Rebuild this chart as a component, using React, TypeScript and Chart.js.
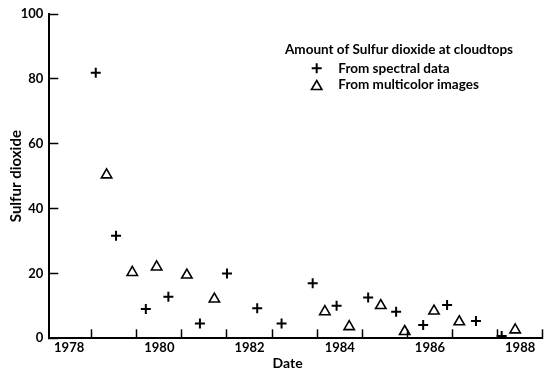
import React, { useEffect, useRef } from 'react';
import { Chart, registerables } from 'chart.js';

Chart.register(...registerables);

// Spectral data (+)
const spectralYears = [1978.59, 1979.04, 1979.70, 1980.20, 1980.90, 1981.50, 1982.17, 1982.71, 1983.40, 1983.93, 1984.63, 1985.25, 1985.85, 1986.38, 1987.02, 1987.59];
const spectralSO2 = [81.9, 31.6, 9.0, 12.8, 4.6, 20.0, 9.3, 4.6, 17.0, 10.0, 12.6, 8.2, 4.1, 10.3, 5.3, 0.7];

// Multicolor images (triangles)
const imageYears = [1978.83, 1979.40, 1979.94, 1980.61, 1981.22, 1983.67, 1984.21, 1984.91, 1985.44, 1986.09, 1986.65, 1987.89];
const imageSO2 = [50.4, 20.3, 22.0, 19.5, 12.1, 8.2, 3.6, 10.1, 2.1, 8.4, 5.1, 2.6];

const yearLabels = [1978, 1980, 1982, 1984, 1986, 1988];
const yearBoundaries = [1978.5, 1979.5, 1980.5, 1981.5, 1982.5, 1983.5, 1984.5, 1985.5, 1986.5, 1987.5, 1988.5];
const yTickValues = [0, 20, 40, 60, 80, 100];

const legendTitle = 'Amount of Sulfur dioxide at cloudtops';
const seriesLabels = ['From spectral data', 'From multicolor images'];
const xTitle = 'Date';
const yTitle = 'Sulfur dioxide';

const FONT = 'Lato';

const legendPlugin = {
  id: 'customLegend',
  afterDraw(chart: any) {
    const ctx = chart.ctx as CanvasRenderingContext2D;
    const area = chart.chartArea;
    ctx.save();
    ctx.fillStyle = '#000';
    ctx.strokeStyle = '#000';
    ctx.textBaseline = 'middle';
    ctx.textAlign = 'center';
    // x-axis title (slightly left of centre, as in the original)
    ctx.font = `bold 14px ${FONT}`;
    ctx.fillText(xTitle, area.left + area.width * 0.483, 363);

    ctx.textAlign = 'left';
    ctx.font = `bold 13.5px ${FONT}`;
    ctx.fillText(legendTitle, 285, 49.5);
    chart.data.datasets.forEach((ds: any, i: number) => {
      const y = 68.3 + i * 16.7;
      const x = 316.7;
      ctx.beginPath();
      if (ds.pointStyle === 'cross') {
        ctx.lineWidth = 2;
        ctx.moveTo(x, y - 5);
        ctx.lineTo(x, y + 5);
        ctx.moveTo(x - 5, y);
        ctx.lineTo(x + 5, y);
        ctx.stroke();
      } else {
        const r = 6;
        const cy = y + 1.5;
        ctx.lineWidth = 1.6;
        ctx.moveTo(x, cy - r);
        ctx.lineTo(x + Math.sin((2 * Math.PI) / 3) * r, cy + r / 2);
        ctx.lineTo(x - Math.sin((2 * Math.PI) / 3) * r, cy + r / 2);
        ctx.closePath();
        ctx.stroke();
      }
      ctx.fillText(ds.label, 338.3, y);
    });
    ctx.restore();
  },
};

export default function App() {
  const canvasRef = useRef<HTMLCanvasElement | null>(null);

  useEffect(() => {
    if (!canvasRef.current) return;
    const tickFont = { family: FONT, size: 13, weight: 'bold' as const };
    const chart = new Chart(canvasRef.current, {
      type: 'scatter',
      data: {
        datasets: [
          {
            label: seriesLabels[0],
            data: spectralYears.map((x, i) => ({ x, y: spectralSO2[i] })),
            pointStyle: 'cross',
            pointRadius: 5,
            pointBorderWidth: 2,
            borderColor: '#000',
            backgroundColor: '#000',
          },
          {
            label: seriesLabels[1],
            data: imageYears.map((x, i) => ({ x, y: imageSO2[i] })),
            pointStyle: 'triangle',
            pointRadius: 6,
            pointBorderWidth: 1.6,
            borderColor: '#000',
            backgroundColor: 'rgba(0,0,0,0)',
          },
        ],
      },
      options: {
        animation: false,
        responsive: true,
        maintainAspectRatio: false,
        layout: { padding: { top: 14, right: 13.3, left: 0, bottom: 0 } },
        plugins: {
          legend: { display: false },
          tooltip: { enabled: false },
        },
        scales: {
          x: {
            type: 'linear',
            min: 1977.56,
            max: 1988.5,
            afterBuildTicks: (scale: any) => {
              const vals = [...yearLabels, ...yearBoundaries].sort((a, b) => a - b);
              scale.ticks = vals.map((v) => ({ value: v }));
            },
            afterFit: (scale: any) => {
              scale.height = 36.7;
              scale.paddingLeft = 0;
              scale.paddingRight = 0;
            },
            ticks: {
              autoSkip: false,
              maxRotation: 0,
              minRotation: 0,
              color: '#000',
              font: tickFont,
              padding: 11,
              callback: (v: any) => (yearLabels.includes(Number(v)) ? String(v) : ''),
            },
            grid: {
              drawOnChartArea: false,
              tickLength: -9,
              tickWidth: 1.5,
              tickColor: (ctx: any) =>
                yearBoundaries.includes(ctx.tick?.value) ? '#000' : 'rgba(0,0,0,0)',
            },
            border: { color: '#000', width: 2 },
            title: { display: false },
          },
          y: {
            type: 'linear',
            min: 0,
            max: 100,
            afterBuildTicks: (scale: any) => {
              scale.ticks = yTickValues.map((v) => ({ value: v }));
            },
            afterFit: (scale: any) => {
              scale.width = 49.3;
              scale.paddingTop = 0;
              scale.paddingBottom = 0;
            },
            ticks: {
              color: '#000',
              font: tickFont,
              padding: 15,
            },
            grid: {
              drawOnChartArea: false,
              tickLength: -9,
              tickWidth: 1.5,
              tickColor: '#000',
            },
            border: { color: '#000', width: 2 },
            title: {
              display: true,
              text: yTitle,
              color: '#000',
              font: { family: FONT, size: 15, weight: 'bold' as const },
              padding: { top: 7, bottom: 0 },
            },
          },
        },
      },
      plugins: [legendPlugin],
    });
    return () => chart.destroy();
  }, []);

  return (
    <div style={{ position: 'fixed', left: 0, top: 0, width: 556, height: 375, background: '#fff' }}>
      <canvas ref={canvasRef} />
    </div>
  );
}
